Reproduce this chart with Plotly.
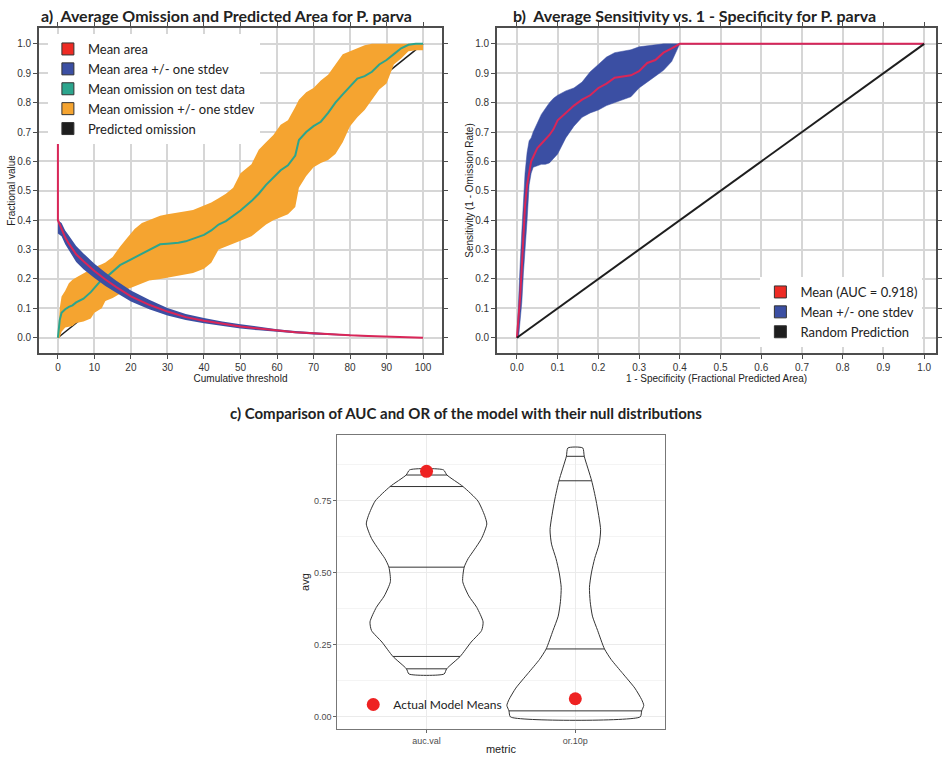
import numpy as np
import plotly.graph_objects as go

W, H = 942, 757

# ---------------- Panel a data ----------------
thr_area = [0, 0, 1, 2, 3, 5, 7, 10, 13, 16, 20, 25, 30, 35, 40, 45, 50, 55, 60, 65, 70, 75, 80, 85, 90, 95, 100]
area_mean = [1.0, 0.40, 0.37, 0.341, 0.32, 0.284, 0.26, 0.227, 0.198, 0.172, 0.141, 0.112, 0.089, 0.070, 0.058,
             0.047, 0.038, 0.031, 0.024, 0.019, 0.015, 0.011, 0.008, 0.006, 0.004, 0.002, 0.0]
area_hi = [1.0, 0.40, 0.39, 0.365, 0.348, 0.312, 0.287, 0.252, 0.222, 0.194, 0.161, 0.129, 0.101, 0.081, 0.067,
           0.055, 0.046, 0.037, 0.029, 0.023, 0.018, 0.014, 0.010, 0.007, 0.005, 0.003, 0.0]
area_lo = [1.0, 0.355, 0.345, 0.318, 0.297, 0.258, 0.233, 0.203, 0.176, 0.153, 0.123, 0.097, 0.076, 0.060, 0.049,
           0.039, 0.031, 0.025, 0.019, 0.015, 0.011, 0.008, 0.006, 0.004, 0.003, 0.001, 0.0]

thr_om = [0, 0.5, 1, 2, 3, 4, 5, 7, 9, 10, 12, 13, 15, 17, 19, 21, 23, 25, 28, 30, 33, 35, 37, 40, 42, 44, 46,
          48, 50, 53, 55, 57, 59, 61, 63, 65, 66, 68, 70, 72, 74, 76, 78, 80, 82, 84, 86, 88, 90, 92, 94, 96, 98, 100]
om_mean = [0, 0.06, 0.085, 0.097, 0.105, 0.11, 0.12, 0.133, 0.155, 0.17, 0.198, 0.203, 0.225, 0.247, 0.26,
           0.273, 0.285, 0.30, 0.318, 0.32, 0.323, 0.328, 0.336, 0.35, 0.365, 0.385, 0.397, 0.415, 0.433, 0.465,
           0.49, 0.52, 0.545, 0.57, 0.587, 0.62, 0.673, 0.70, 0.72, 0.735, 0.765, 0.80, 0.828, 0.855, 0.882, 0.89,
           0.905, 0.93, 0.945, 0.965, 0.985, 0.997, 1.0, 1.0]
om_hi = [0, 0.10, 0.14, 0.16, 0.185, 0.197, 0.205, 0.22, 0.233, 0.24, 0.25, 0.256, 0.275, 0.31, 0.34, 0.37,
         0.39, 0.40, 0.415, 0.42, 0.425, 0.43, 0.435, 0.45, 0.46, 0.475, 0.49, 0.51, 0.56, 0.59, 0.64, 0.665,
         0.69, 0.725, 0.74, 0.785, 0.81, 0.835, 0.85, 0.875, 0.895, 0.93, 0.965, 0.975, 0.985, 0.995, 1.0, 1.0,
         1.0, 1.0, 1.0, 1.0, 1.0, 1.0]
om_lo = [0, 0.0, 0.02, 0.035, 0.038, 0.04, 0.05, 0.055, 0.065, 0.085, 0.10, 0.125, 0.135, 0.15, 0.165, 0.175,
         0.185, 0.195, 0.20, 0.205, 0.21, 0.215, 0.22, 0.235, 0.255, 0.30, 0.31, 0.32, 0.33, 0.345, 0.365, 0.385,
         0.40, 0.41, 0.42, 0.445, 0.51, 0.55, 0.58, 0.595, 0.605, 0.625, 0.665, 0.72, 0.75, 0.775, 0.81, 0.845,
         0.865, 0.93, 0.95, 0.975, 0.978, 0.978]
pred_om_x = [0, 100]
pred_om_y = [0, 1]

# ---------------- Panel b data ----------------
roc_fpr = [0, 0.004, 0.008, 0.012, 0.016, 0.020, 0.025, 0.030, 0.035, 0.040, 0.050, 0.060, 0.070, 0.080, 0.090,
           0.100, 0.120, 0.140, 0.160, 0.180, 0.200, 0.220, 0.240, 0.260, 0.280, 0.300, 0.320, 0.340, 0.360,
           0.380, 0.400, 1.000]
roc_mean = [0, 0.06, 0.14, 0.24, 0.35, 0.45, 0.52, 0.565, 0.60, 0.615, 0.645, 0.66, 0.675, 0.69, 0.71, 0.74,
            0.765, 0.79, 0.81, 0.825, 0.85, 0.865, 0.885, 0.89, 0.893, 0.907, 0.935, 0.945, 0.97, 0.985, 1.0, 1.0]
roc_hi = [0, 0.15, 0.25, 0.36, 0.47, 0.56, 0.63, 0.67, 0.68, 0.70, 0.73, 0.76, 0.78, 0.80, 0.815, 0.825, 0.84,
          0.85, 0.87, 0.905, 0.93, 0.955, 0.97, 0.975, 0.98, 0.99, 0.993, 0.997, 1.0, 1.0, 1.0, 1.0]
roc_lo = [0, 0.0, 0.05, 0.12, 0.22, 0.31, 0.40, 0.52, 0.56, 0.58, 0.585, 0.59, 0.59, 0.595, 0.61, 0.625, 0.68,
          0.72, 0.75, 0.765, 0.775, 0.79, 0.80, 0.81, 0.82, 0.85, 0.87, 0.89, 0.91, 0.94, 1.0, 1.0]
rand_x = [0, 1]
rand_y = [0, 1]
auc_label = "Mean (AUC = 0.918)"

# ---------------- Panel c data ----------------
metrics = ["auc.val", "or.10p"]
auc_violin_y = [0.149, 0.167, 0.21, 0.26, 0.30, 0.33, 0.38, 0.42, 0.47, 0.52, 0.55, 0.58, 0.62, 0.67, 0.70,
                0.75, 0.80, 0.84, 0.858]
auc_violin_w = [0.118, 0.135, 0.226, 0.30, 0.37, 0.38, 0.338, 0.284, 0.243, 0.253, 0.28, 0.32, 0.37, 0.405,
                0.39, 0.345, 0.245, 0.137, 0.113]
auc_lines = [0.167, 0.21, 0.52, 0.80, 0.84]
or_violin_y = [0.0, 0.021, 0.04, 0.06, 0.10, 0.15, 0.20, 0.236, 0.30, 0.35, 0.40, 0.45, 0.50, 0.55, 0.60,
               0.65, 0.75, 0.82, 0.905, 0.934]
or_violin_w = [0.436, 0.446, 0.46, 0.446, 0.40, 0.32, 0.24, 0.196, 0.15, 0.115, 0.10, 0.095, 0.108, 0.13,
               0.16, 0.17, 0.14, 0.11, 0.06, 0.05]
or_lines = [0.021, 0.236, 0.82, 0.905]
model_means = [0.853, 0.063]

# ---------------- styles ----------------
RED_LINE = "#d92658"
RED = "#ee2b24"
BLUE = "#3b4fa3"
TEAL = "#2ca58d"
ORANGE = "#f5a430"
BLACK = "#1e1e1e"
GRID = "#d6d6d6"
AX = "#4d4d4d"

fig = go.Figure()


def band(x, hi, lo):
    return list(x) + list(x)[::-1], list(hi) + list(lo)[::-1]


# Panel a
fig.add_trace(go.Scatter(x=pred_om_x, y=pred_om_y, mode="lines", line=dict(color=BLACK, width=1.5),
                         showlegend=False, xaxis="x", yaxis="y", hoverinfo="skip"))
bx, by = band(thr_om, om_hi, om_lo)
fig.add_trace(go.Scatter(x=bx, y=by, mode="lines", fill="toself", fillcolor=ORANGE, line=dict(width=0),
                         showlegend=False, xaxis="x", yaxis="y", hoverinfo="skip"))
fig.add_trace(go.Scatter(x=thr_om, y=om_mean, mode="lines", line=dict(color=TEAL, width=2),
                         showlegend=False, xaxis="x", yaxis="y"))
bx, by = band(thr_area, area_hi, area_lo)
fig.add_trace(go.Scatter(x=bx, y=by, mode="lines", fill="toself", fillcolor=BLUE, line=dict(width=0, color=BLUE),
                         showlegend=False, xaxis="x", yaxis="y", hoverinfo="skip"))
fig.add_trace(go.Scatter(x=thr_area, y=area_mean, mode="lines", line=dict(color=RED_LINE, width=2),
                         showlegend=False, xaxis="x", yaxis="y"))

# Panel b
bx, by = band(roc_fpr, roc_hi, roc_lo)
fig.add_trace(go.Scatter(x=bx, y=by, mode="lines", fill="toself", fillcolor=BLUE, line=dict(width=0.5, color=BLUE),
                         showlegend=False, xaxis="x2", yaxis="y2", hoverinfo="skip"))
fig.add_trace(go.Scatter(x=roc_fpr, y=roc_mean, mode="lines", line=dict(color=RED_LINE, width=2),
                         showlegend=False, xaxis="x2", yaxis="y2"))
fig.add_trace(go.Scatter(x=rand_x, y=rand_y, mode="lines", line=dict(color=BLACK, width=2),
                         showlegend=False, xaxis="x2", yaxis="y2"))


def swatch(name, color, legend):
    return go.Scatter(x=[None], y=[None], mode="markers", name=name, legend=legend,
                      marker=dict(symbol="square", size=12, color=color, line=dict(color="#333", width=1)),
                      xaxis="x", yaxis="y")


for nm, col in [("Mean area", RED), ("Mean area +/- one stdev", BLUE), ("Mean omission on test data", TEAL),
                ("Mean omission +/- one stdev", ORANGE), ("Predicted omission", BLACK)]:
    fig.add_trace(swatch(nm, col, "legend"))
for nm, col in [(auc_label, RED), ("Mean +/- one stdev", BLUE), ("Random Prediction", BLACK)]:
    fig.add_trace(swatch(nm, col, "legend2"))

# Panel c violins
for ci, (vy, vw, lines) in enumerate([(auc_violin_y, auc_violin_w, auc_lines),
                                      (or_violin_y, or_violin_w, or_lines)]):
    c = ci + 1
    xs = [c + w for w in vw] + [c - w for w in vw[::-1]] + [c + vw[0]]
    ys = list(vy) + list(vy[::-1]) + [vy[0]]
    fig.add_trace(go.Scatter(x=xs, y=ys, mode="lines", line=dict(color="#333333", width=1, shape="spline",
                                                                  smoothing=0.6),
                             showlegend=False, xaxis="x3", yaxis="y3", hoverinfo="skip"))
    lx, ly = [], []
    for lv in lines:
        w = float(np.interp(lv, vy, vw))
        lx += [c - w, c + w, None]
        ly += [lv, lv, None]
    fig.add_trace(go.Scatter(x=lx, y=ly, mode="lines", line=dict(color="#333333", width=1),
                             showlegend=False, xaxis="x3", yaxis="y3", hoverinfo="skip"))

fig.add_trace(go.Scatter(x=[1, 2], y=model_means, mode="markers", name="Actual Model Means",
                         marker=dict(color="#ee2222", size=13), legend="legend3",
                         xaxis="x3", yaxis="y3"))

# ---------------- layout ----------------
TICKFONT = dict(family="Liberation Sans, Arial", size=10, color="#333333")
TITLEFONT = dict(family="Liberation Sans, Arial", size=10, color="#222222")


def px_x(p):
    return p / W


def px_y(p):
    return (H - p) / H


common = dict(showgrid=True, gridcolor=GRID, gridwidth=1.5, zeroline=False, showline=True,
              linecolor=AX, linewidth=1.5, mirror="ticks", ticks="outside", ticklen=4,
              tickcolor=AX, tickwidth=1.2, tickfont=TICKFONT)

fig.update_layout(
    width=W, height=H, margin=dict(l=0, r=0, t=0, b=0),
    paper_bgcolor="white", plot_bgcolor="white", showlegend=True,
    xaxis=dict(domain=[px_x(39), px_x(443)], range=[-5.2, 105.2], dtick=10, tick0=0, anchor="y",
               title=dict(text="Cumulative threshold", font=TITLEFONT, standoff=2), **common),
    yaxis=dict(domain=[px_y(353), px_y(28)], range=[-0.052, 1.054], dtick=0.1, tick0=0, tickformat=".1f",
               anchor="x", title=dict(text="Fractional value", font=TITLEFONT, standoff=0), **common),
    xaxis2=dict(domain=[px_x(498), px_x(938)], range=[-0.049, 1.029], dtick=0.1, tick0=0, tickformat=".1f",
                anchor="y2", title=dict(text="1 - Specificity (Fractional Predicted Area)", font=TITLEFONT,
                                        standoff=2), **common),
    yaxis2=dict(domain=[px_y(353), px_y(28)], range=[-0.052, 1.054], dtick=0.1, tick0=0, tickformat=".1f",
                anchor="x2", title=dict(text="Sensitivity (1 - Omission Rate)", font=TITLEFONT, standoff=0),
                **common),
    xaxis3=dict(domain=[px_x(338), px_x(666)], range=[0.4, 2.6], tickmode="array", tickvals=[1, 2],
                ticktext=metrics, anchor="y3", showgrid=True, gridcolor="#ebebeb", gridwidth=1,
                zeroline=False, showline=True, linecolor="#777777", linewidth=1, mirror=True,
                ticks="outside", ticklen=3, tickcolor="#666666",
                tickfont=dict(family="Liberation Sans, Arial", size=9, color="#4d4d4d"),
                title=dict(text="metric", font=dict(family="Liberation Sans, Arial", size=11, color="#222"),
                           standoff=0)),
    yaxis3=dict(domain=[px_y(729), px_y(435)], range=[-0.042, 0.979], dtick=0.25, tick0=0, tickformat=".2f",
                anchor="x3", showgrid=True, gridcolor="#ebebeb", gridwidth=1, zeroline=False,
                showline=True, linecolor="#777777", linewidth=1, mirror=True, ticks="outside", ticklen=3,
                tickcolor="#666666", tickfont=dict(family="Liberation Sans, Arial", size=9, color="#4d4d4d"),
                minor=dict(dtick=0.125, tick0=0, showgrid=True, gridcolor="#f4f4f4", gridwidth=0.8),
                title=dict(text="avg", font=dict(family="Liberation Sans, Arial", size=11, color="#222"),
                           standoff=2)),
    legend=dict(x=px_x(48), y=px_y(34), xanchor="left", yanchor="top", bgcolor="white",
                font=dict(family="Lato", size=13, color="#222"), itemsizing="trace"),
    legend2=dict(x=px_x(762), y=px_y(277), xanchor="left", yanchor="top", bgcolor="white",
                 font=dict(family="Lato", size=13, color="#222"), itemsizing="trace"),
    legend3=dict(x=px_x(354), y=px_y(690), xanchor="left", yanchor="top", bgcolor="rgba(255,255,255,0)",
                 font=dict(family="Lato", size=12, color="#222"), itemsizing="trace"),
    annotations=[
        dict(text="<b>a)  Average Omission and Predicted Area for P. parva</b>", xref="paper", yref="paper",
             x=px_x(40), y=px_y(15), xanchor="left", yanchor="middle", showarrow=False, borderpad=0,
             font=dict(family="Lato", size=16, color="#222")),
        dict(text="<b>b)  Average Sensitivity vs. 1 - Specificity for P. parva</b>", xref="paper", yref="paper",
             x=px_x(513), y=px_y(15), xanchor="left", yanchor="middle", showarrow=False, borderpad=0,
             font=dict(family="Lato", size=16, color="#222")),
        dict(text="<b>c) Comparison of AUC and OR of the model with their null distributions</b>",
             xref="paper", yref="paper", x=px_x(228), y=px_y(413), xanchor="left", yanchor="middle",
             showarrow=False, font=dict(family="Lato", size=15, color="#222")),
    ],
)

# Remove the default 8px page margin so the figure fills the window exactly; hide the mode bar.
fig.write_html("out.html", config={"displayModeBar": False},
               post_script="document.body.style.margin='0';document.body.style.overflow='hidden';")
